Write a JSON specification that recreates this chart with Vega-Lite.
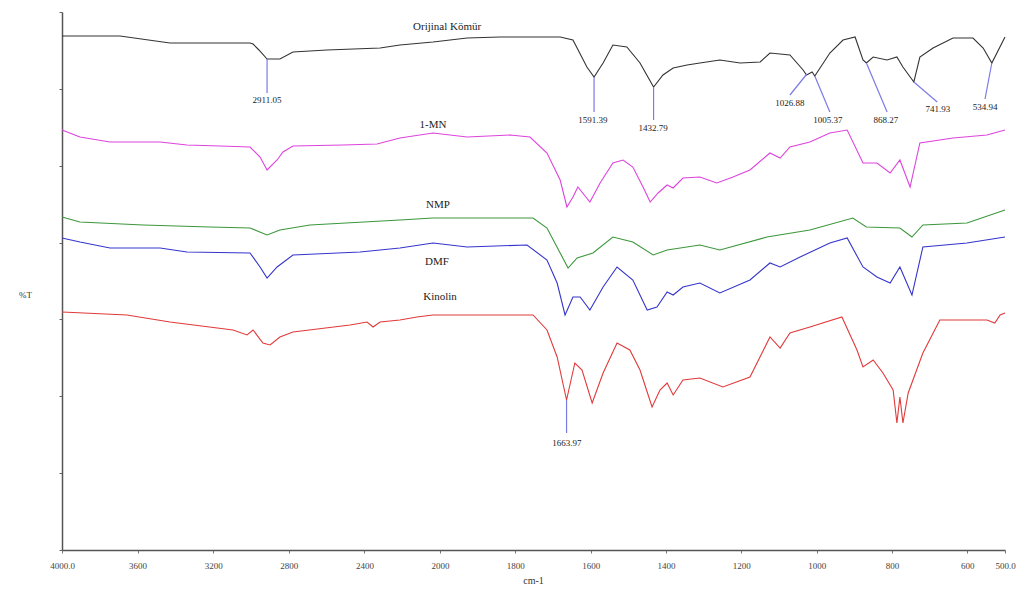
{
  "$schema": "https://vega.github.io/schema/vega-lite/v6.json",
  "width": 943,
  "height": 538,
  "autosize": {"type": "none"},
  "padding": {"left": 62, "top": 12, "right": 14, "bottom": 40},
  "background": "white",
  "config": {"view": {"stroke": null}, "font": "Liberation Serif"},
  "datasets": {
    "spectra": [
      {"s":"OK","wn":4000,"v":514},{"s":"OK","wn":3693,"v":514},{"s":"OK","wn":3429,"v":507},{"s":"OK","wn":3005,"v":507},{"s":"OK","wn":2989,"v":506},{"s":"OK","wn":2958,"v":500},{"s":"OK","wn":2915,"v":491},{"s":"OK","wn":2847,"v":491},{"s":"OK","wn":2778,"v":498},{"s":"OK","wn":2598,"v":500},{"s":"OK","wn":2317,"v":502},{"s":"OK","wn":2212,"v":505},{"s":"OK","wn":2037,"v":508},{"s":"OK","wn":1928,"v":512},{"s":"OK","wn":1841,"v":513},{"s":"OK","wn":1681,"v":513},{"s":"OK","wn":1647,"v":510},{"s":"OK","wn":1610,"v":483},{"s":"OK","wn":1591,"v":473},{"s":"OK","wn":1567,"v":487},{"s":"OK","wn":1541,"v":505},{"s":"OK","wn":1504,"v":503},{"s":"OK","wn":1469,"v":487},{"s":"OK","wn":1433,"v":463},{"s":"OK","wn":1408,"v":475},{"s":"OK","wn":1381,"v":482},{"s":"OK","wn":1344,"v":485},{"s":"OK","wn":1310,"v":487},{"s":"OK","wn":1257,"v":490},{"s":"OK","wn":1203,"v":487},{"s":"OK","wn":1150,"v":488},{"s":"OK","wn":1124,"v":497},{"s":"OK","wn":1071,"v":495},{"s":"OK","wn":1036,"v":480},{"s":"OK","wn":1027,"v":475},{"s":"OK","wn":1012,"v":478},{"s":"OK","wn":1005,"v":474},{"s":"OK","wn":965,"v":497},{"s":"OK","wn":930,"v":510},{"s":"OK","wn":898,"v":513},{"s":"OK","wn":877,"v":490},{"s":"OK","wn":868,"v":487},{"s":"OK","wn":850,"v":493},{"s":"OK","wn":813,"v":490},{"s":"OK","wn":787,"v":493},{"s":"OK","wn":771,"v":483},{"s":"OK","wn":742,"v":468},{"s":"OK","wn":726,"v":493},{"s":"OK","wn":691,"v":502},{"s":"OK","wn":638,"v":512},{"s":"OK","wn":585,"v":512},{"s":"OK","wn":558,"v":502},{"s":"OK","wn":535,"v":487},{"s":"OK","wn":500,"v":513},
      {"s":"MN","wn":4000,"v":420},{"s":"MN","wn":3905,"v":413},{"s":"MN","wn":3746,"v":408},{"s":"MN","wn":3481,"v":408},{"s":"MN","wn":3339,"v":405},{"s":"MN","wn":3164,"v":404},{"s":"MN","wn":3005,"v":403},{"s":"MN","wn":2952,"v":393},{"s":"MN","wn":2915,"v":380},{"s":"MN","wn":2862,"v":390},{"s":"MN","wn":2831,"v":398},{"s":"MN","wn":2778,"v":404},{"s":"MN","wn":2513,"v":405},{"s":"MN","wn":2333,"v":406},{"s":"MN","wn":2212,"v":412},{"s":"MN","wn":2037,"v":417},{"s":"MN","wn":1928,"v":413},{"s":"MN","wn":1814,"v":415},{"s":"MN","wn":1761,"v":413},{"s":"MN","wn":1716,"v":397},{"s":"MN","wn":1681,"v":370},{"s":"MN","wn":1663,"v":343},{"s":"MN","wn":1647,"v":353},{"s":"MN","wn":1634,"v":363},{"s":"MN","wn":1602,"v":348},{"s":"MN","wn":1575,"v":367},{"s":"MN","wn":1541,"v":387},{"s":"MN","wn":1514,"v":390},{"s":"MN","wn":1488,"v":383},{"s":"MN","wn":1461,"v":363},{"s":"MN","wn":1442,"v":348},{"s":"MN","wn":1421,"v":357},{"s":"MN","wn":1397,"v":365},{"s":"MN","wn":1381,"v":362},{"s":"MN","wn":1355,"v":372},{"s":"MN","wn":1310,"v":373},{"s":"MN","wn":1265,"v":367},{"s":"MN","wn":1222,"v":373},{"s":"MN","wn":1177,"v":380},{"s":"MN","wn":1124,"v":397},{"s":"MN","wn":1097,"v":392},{"s":"MN","wn":1071,"v":403},{"s":"MN","wn":1018,"v":408},{"s":"MN","wn":965,"v":417},{"s":"MN","wn":919,"v":420},{"s":"MN","wn":877,"v":387},{"s":"MN","wn":840,"v":387},{"s":"MN","wn":805,"v":377},{"s":"MN","wn":779,"v":390},{"s":"MN","wn":752,"v":363},{"s":"MN","wn":726,"v":407},{"s":"MN","wn":638,"v":412},{"s":"MN","wn":548,"v":415},{"s":"MN","wn":500,"v":420},
      {"s":"NMP","wn":4000,"v":333},{"s":"NMP","wn":3905,"v":328},{"s":"NMP","wn":3571,"v":325},{"s":"NMP","wn":3217,"v":323},{"s":"NMP","wn":3005,"v":322},{"s":"NMP","wn":2915,"v":315},{"s":"NMP","wn":2847,"v":320},{"s":"NMP","wn":2688,"v":325},{"s":"NMP","wn":2212,"v":330},{"s":"NMP","wn":2037,"v":332},{"s":"NMP","wn":1753,"v":332},{"s":"NMP","wn":1716,"v":322},{"s":"NMP","wn":1681,"v":297},{"s":"NMP","wn":1660,"v":282},{"s":"NMP","wn":1636,"v":292},{"s":"NMP","wn":1594,"v":297},{"s":"NMP","wn":1541,"v":313},{"s":"NMP","wn":1488,"v":308},{"s":"NMP","wn":1434,"v":295},{"s":"NMP","wn":1397,"v":300},{"s":"NMP","wn":1310,"v":305},{"s":"NMP","wn":1257,"v":300},{"s":"NMP","wn":1132,"v":313},{"s":"NMP","wn":1018,"v":320},{"s":"NMP","wn":904,"v":332},{"s":"NMP","wn":868,"v":323},{"s":"NMP","wn":779,"v":322},{"s":"NMP","wn":747,"v":313},{"s":"NMP","wn":718,"v":325},{"s":"NMP","wn":601,"v":327},{"s":"NMP","wn":500,"v":340},
      {"s":"DMF","wn":4000,"v":312},{"s":"DMF","wn":3905,"v":308},{"s":"DMF","wn":3746,"v":302},{"s":"DMF","wn":3481,"v":302},{"s":"DMF","wn":3339,"v":298},{"s":"DMF","wn":3005,"v":297},{"s":"DMF","wn":2952,"v":283},{"s":"DMF","wn":2915,"v":272},{"s":"DMF","wn":2862,"v":283},{"s":"DMF","wn":2778,"v":295},{"s":"DMF","wn":2423,"v":298},{"s":"DMF","wn":2212,"v":302},{"s":"DMF","wn":2037,"v":307},{"s":"DMF","wn":1928,"v":303},{"s":"DMF","wn":1769,"v":305},{"s":"DMF","wn":1716,"v":290},{"s":"DMF","wn":1689,"v":267},{"s":"DMF","wn":1668,"v":235},{"s":"DMF","wn":1647,"v":253},{"s":"DMF","wn":1628,"v":253},{"s":"DMF","wn":1602,"v":240},{"s":"DMF","wn":1567,"v":263},{"s":"DMF","wn":1530,"v":283},{"s":"DMF","wn":1488,"v":270},{"s":"DMF","wn":1450,"v":240},{"s":"DMF","wn":1424,"v":243},{"s":"DMF","wn":1397,"v":258},{"s":"DMF","wn":1381,"v":255},{"s":"DMF","wn":1355,"v":263},{"s":"DMF","wn":1310,"v":267},{"s":"DMF","wn":1257,"v":257},{"s":"DMF","wn":1177,"v":270},{"s":"DMF","wn":1124,"v":287},{"s":"DMF","wn":1097,"v":283},{"s":"DMF","wn":1044,"v":293},{"s":"DMF","wn":965,"v":307},{"s":"DMF","wn":919,"v":312},{"s":"DMF","wn":877,"v":283},{"s":"DMF","wn":840,"v":273},{"s":"DMF","wn":805,"v":267},{"s":"DMF","wn":779,"v":283},{"s":"DMF","wn":747,"v":255},{"s":"DMF","wn":718,"v":303},{"s":"DMF","wn":601,"v":307},{"s":"DMF","wn":500,"v":313},
      {"s":"KIN","wn":4000,"v":238},{"s":"KIN","wn":3656,"v":235},{"s":"KIN","wn":3429,"v":228},{"s":"KIN","wn":3095,"v":220},{"s":"KIN","wn":3021,"v":215},{"s":"KIN","wn":2989,"v":220},{"s":"KIN","wn":2937,"v":207},{"s":"KIN","wn":2899,"v":205},{"s":"KIN","wn":2847,"v":213},{"s":"KIN","wn":2778,"v":218},{"s":"KIN","wn":2476,"v":225},{"s":"KIN","wn":2386,"v":228},{"s":"KIN","wn":2354,"v":223},{"s":"KIN","wn":2317,"v":228},{"s":"KIN","wn":2212,"v":230},{"s":"KIN","wn":2122,"v":233},{"s":"KIN","wn":2037,"v":235},{"s":"KIN","wn":1753,"v":235},{"s":"KIN","wn":1716,"v":220},{"s":"KIN","wn":1689,"v":193},{"s":"KIN","wn":1664,"v":150},{"s":"KIN","wn":1642,"v":187},{"s":"KIN","wn":1623,"v":180},{"s":"KIN","wn":1596,"v":147},{"s":"KIN","wn":1567,"v":177},{"s":"KIN","wn":1530,"v":207},{"s":"KIN","wn":1496,"v":200},{"s":"KIN","wn":1469,"v":180},{"s":"KIN","wn":1437,"v":143},{"s":"KIN","wn":1416,"v":160},{"s":"KIN","wn":1397,"v":167},{"s":"KIN","wn":1381,"v":155},{"s":"KIN","wn":1355,"v":170},{"s":"KIN","wn":1310,"v":172},{"s":"KIN","wn":1249,"v":163},{"s":"KIN","wn":1177,"v":173},{"s":"KIN","wn":1124,"v":213},{"s":"KIN","wn":1097,"v":202},{"s":"KIN","wn":1071,"v":217},{"s":"KIN","wn":1018,"v":223},{"s":"KIN","wn":933,"v":233},{"s":"KIN","wn":893,"v":200},{"s":"KIN","wn":877,"v":183},{"s":"KIN","wn":850,"v":190},{"s":"KIN","wn":824,"v":177},{"s":"KIN","wn":797,"v":160},{"s":"KIN","wn":787,"v":127},{"s":"KIN","wn":779,"v":153},{"s":"KIN","wn":771,"v":127},{"s":"KIN","wn":757,"v":157},{"s":"KIN","wn":718,"v":197},{"s":"KIN","wn":673,"v":230},{"s":"KIN","wn":548,"v":230},{"s":"KIN","wn":527,"v":227},{"s":"KIN","wn":513,"v":235},{"s":"KIN","wn":500,"v":237}
    ],
    "leaders": [
      {"w1":2915,"v1":491,"w2":2915,"v2":457},
      {"w1":1591,"v1":473,"w2":1591,"v2":438},
      {"w1":1433,"v1":463,"w2":1433,"v2":430},
      {"w1":1026,"v1":476,"w2":1071,"v2":455},
      {"w1":1005,"v1":474,"w2":965,"v2":438},
      {"w1":868,"v1":487,"w2":813,"v2":438},
      {"w1":742,"v1":468,"w2":680,"v2":448},
      {"w1":535,"v1":487,"w2":553,"v2":451},
      {"w1":1664,"v1":150,"w2":1664,"v2":117}
    ],
    "peaks": [
      {"t":"2911.05","wn":2915,"v":450},
      {"t":"1591.39","wn":1594,"v":430},
      {"t":"1432.79","wn":1434,"v":422},
      {"t":"1026.88","wn":1071,"v":447},
      {"t":"1005.37","wn":970,"v":430},
      {"t":"868.27","wn":816,"v":430},
      {"t":"741.93","wn":678,"v":441},
      {"t":"534.94","wn":553,"v":443},
      {"t":"1663.97","wn":1663,"v":107}
    ],
    "names": [
      {"t":"Orijinal Kömür","wn":1981,"v":523},
      {"t":"1-MN","wn":2037,"v":425},
      {"t":"NMP","wn":2011,"v":345},
      {"t":"DMF","wn":2016,"v":288},
      {"t":"Kinolin","wn":2000,"v":253}
    ]
  },
  "layer": [
    {
      "data": {"name": "spectra"},
      "mark": {"type": "line", "strokeWidth": 1.1},
      "encoding": {
        "x": {
          "field": "wn", "type": "quantitative",
          "scale": {"domain": [4000, 2000, 500], "range": [0, 378, 943], "zero": false, "nice": false},
          "axis": {
            "title": "cm-1", "values": [4000,3600,3200,2800,2400,2000,1800,1600,1400,1200,1000,800,600,500],
            "format": "d",
            "labelExpr": "datum.value == 4000 ? '4000.0' : (datum.value == 500 ? '500.0' : datum.label)",
            "labelFont": "Liberation Serif", "labelFontSize": 9, "labelColor": "#444",
            "titleFont": "Liberation Serif", "titleFontSize": 10, "titleFontWeight": "normal", "titleColor": "#333",
            "titleX": 471, "titleY": 30, "titleBaseline": "middle", "titleAlign": "center",
            "domainColor": "#555", "domainWidth": 1.5, "tickColor": "#777", "tickSize": 3,
            "labelPadding": 8, "grid": false, "labelFlush": false, "labelOverlap": false
          }
        },
        "y": {
          "field": "v", "type": "quantitative",
          "scale": {"domain": [0, 538], "zero": false, "nice": false},
          "axis": {
            "title": "%T", "titleAngle": 0, "titleX": -37, "titleY": 282, "titleAlign": "center", "titleBaseline": "middle",
            "titleFont": "Liberation Serif", "titleFontSize": 9, "titleFontWeight": "normal", "titleColor": "#333",
            "labels": false, "labelOverlap": false,
            "values": [0,38,77,115,154,192,231,269,307,346,384,423,461,500,538],
            "domainColor": "#555", "domainWidth": 1.5, "tickColor": "#666", "tickWidth": 1, "tickSize": 3, "grid": false
          }
        },
        "color": {
          "field": "s", "type": "nominal",
          "scale": {"domain": ["OK","MN","NMP","DMF","KIN"], "range": ["#333333","#dd44dd","#3c973c","#3535cc","#e03a3a"]},
          "legend": null
        }
      }
    },
    {
      "data": {"name": "leaders"},
      "mark": {"type": "rule", "color": "#7b7be6", "strokeWidth": 1.2},
      "encoding": {
        "x": {"field": "w1", "type": "quantitative"},
        "y": {"field": "v1", "type": "quantitative"},
        "x2": {"field": "w2"},
        "y2": {"field": "v2"}
      }
    },
    {
      "data": {"name": "peaks"},
      "mark": {"type": "text", "font": "Liberation Serif", "fontSize": 9, "color": "#222", "align": "center", "baseline": "middle"},
      "encoding": {
        "x": {"field": "wn", "type": "quantitative"},
        "y": {"field": "v", "type": "quantitative"},
        "text": {"field": "t"}
      }
    },
    {
      "data": {"name": "names"},
      "mark": {"type": "text", "font": "Liberation Serif", "fontSize": 11, "color": "#222", "align": "center", "baseline": "middle"},
      "encoding": {
        "x": {"field": "wn", "type": "quantitative"},
        "y": {"field": "v", "type": "quantitative"},
        "text": {"field": "t"}
      }
    }
  ]
}
